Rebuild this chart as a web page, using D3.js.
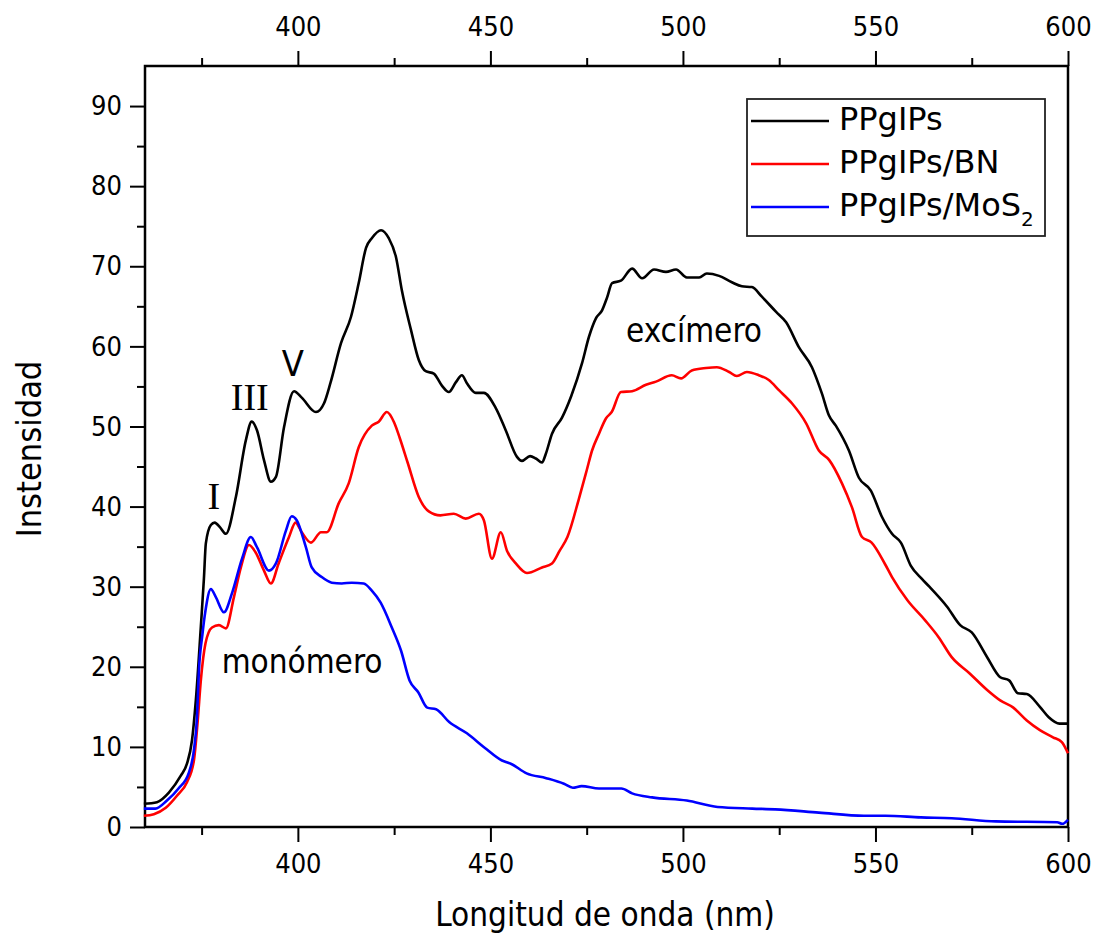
<!DOCTYPE html>
<html>
<head>
<meta charset="utf-8">
<script src="https://cdn.jsdelivr.net/npm/d3@7"></script>
<style>
  body { margin: 0; background: #fff; }
  svg text { fill: #000; }
  .cond { font-family: "DejaVu Sans Condensed", "DejaVu Sans", sans-serif; font-stretch: condensed; }
</style>
</head>
<body>
<svg id="chart" width="1099" height="934"></svg>
<script>
// emission spectra, [wavelength nm, intensity]
const ppgips = [[360,2.9],[363.4,3.1],[366.5,4.3],[369.6,6.4],[371.2,7.9],[372.5,10.8],[373.5,15.8],[374.8,25],[375.6,31],[376.1,35.4],[377.4,37.7],[378.4,38.0],[379.8,37.4],[381.3,36.6],[383.9,41.2],[386.5,48.3],[388,50.6],[389.4,49.5],[391.2,45.8],[393,43.1],[394.3,43.7],[396.4,49.9],[399,54.4],[401,53.6],[404.7,51.8],[406.8,52.9],[408.5,55.5],[411.2,60.4],[413.8,63.7],[415.8,67.9],[417.7,72.3],[419.2,73.5],[421.6,74.5],[423.6,73.5],[425.5,71.1],[427,67.0],[429.4,62.0],[431.4,58.3],[433.2,56.9],[435.3,56.6],[437.4,55.1],[439.2,54.3],[441,55.5],[442.6,56.4],[443.9,55.4],[446.2,54.2],[448.3,54.2],[451.4,52.3],[454,49.5],[456.9,46.2],[458.2,45.7],[460.3,46.3],[461.8,46],[463.4,45.5],[464.4,46.6],[466,49.1],[468.6,51.1],[471,53.8],[473.8,57.9],[475.6,61.2],[477.4,63.5],[479,64.5],[480.3,66.1],[481.6,67.9],[483.9,68.2],[486.8,69.7],[489.4,68.5],[492.5,69.6],[495.6,69.3],[498.2,69.6],[501,68.6],[504.2,68.6],[506.2,69.1],[509.4,68.8],[512.7,68],[515.3,67.5],[517.9,67.4],[520.5,66.2],[524.2,64.3],[526.8,63],[530.1,59.9],[533.5,57.4],[536.1,54.1],[537.9,51.4],[539.7,50.1],[543.1,47],[545.7,43.6],[548.8,42],[551.7,38.7],[554.3,36.6],[556.6,35.5],[559.2,32.6],[562,31],[564,30],[568.6,27.5],[572,25.2],[575,24.3],[579,21.2],[582.4,18.7],[584.7,18.3],[587,16.7],[589.3,16.6],[592.7,15.0],[595,13.7],[597.8,12.9],[600,12.9]];

const ppgipsBN = [[360,1.4],[362.6,1.6],[365.7,2.4],[368.6,3.9],[371.2,5.6],[373,8.3],[374,13.3],[374.8,18.3],[376,22.9],[377.7,24.9],[379.5,25.2],[381.3,24.8],[383.4,28.7],[385.2,32.4],[387.3,35.2],[389,34.3],[391.2,32],[393,30.4],[395,32.9],[397.7,36.2],[399.4,38.0],[401,36.8],[403.4,35.5],[406,36.8],[407.5,36.8],[410.6,40.4],[413.2,42.9],[415.8,47.4],[419.2,50.1],[421,50.6],[423.1,51.8],[425,50.5],[426.5,48.5],[428.5,45.5],[431.4,41.2],[434,39.4],[437,38.9],[440.5,39.1],[443.6,38.5],[447,39.1],[448.3,38.3],[450.4,33.5],[452.7,36.8],[454.3,34.5],[456.6,32.9],[459.5,31.7],[463.4,32.4],[466,32.9],[468,34.5],[470,36.2],[473,41],[475,44.5],[476.4,47],[478.2,49.1],[480,51],[481.5,51.8],[483.9,54.3],[486.8,54.4],[490.4,55.2],[493,55.6],[497.1,56.4],[499.5,56],[502.3,57],[506,57.3],[508.8,57.4],[512,56.8],[514,56.3],[516.6,56.8],[519.7,56.4],[522.3,55.8],[525,54.5],[528.3,52.9],[532,50.4],[535.3,47],[538,45.8],[541.3,42.9],[543.9,39.9],[546.5,36.2],[549,35.5],[552.5,32.8],[554.3,31.2],[558.3,28.3],[562.9,25.8],[566.4,23.7],[569.8,21.2],[574.4,19.2],[579,17.1],[582.4,15.8],[585.8,14.9],[589.3,13.3],[592.7,12.1],[596.1,11.2],[598.4,10.6],[600,9.2]];

const ppgipsMoS2 = [[360,2.3],[363,2.3],[366,3.3],[369,4.8],[371.7,6.8],[373,9.6],[373.8,13.7],[374.3,19.5],[375.2,24],[376,27],[377.4,29.7],[378.7,28.7],[380.8,26.8],[382.9,29.2],[385.5,33.5],[387.8,36.2],[389.4,34.9],[392.5,32],[394.3,32.9],[396.9,37],[398.4,38.8],[399.7,38.3],[402.1,34.9],[403.6,32.4],[406.2,31.2],[408.8,30.5],[411.4,30.4],[414,30.5],[417.1,30.4],[419.2,29.5],[421.5,28],[424.4,24.9],[426.8,22],[429,18.3],[431.3,16.8],[433.6,14.9],[435.9,14.7],[439.3,13.1],[443.9,11.7],[448.5,9.9],[453,8.3],[455.3,7.9],[459.4,6.7],[464.5,6.1],[469.1,5.4],[471.4,4.9],[473.7,5.1],[478.2,4.8],[484,4.8],[486.8,4.2],[492,3.7],[501,3.3],[509,2.5],[518,2.3],[524,2.2],[535.3,1.8],[547,1.4],[552.6,1.4],[561.8,1.2],[569.8,1.1],[581.2,0.7],[597.2,0.6],[598.5,0.4],[600,0.9]];

const seriesNames = ["PPgIPs", "PPgIPs/BN", "PPgIPs/MoS"];
const seriesColors = ["#000000", "#ff0000", "#0000ff"];
const xTicks = [400, 450, 500, 550, 600];
const xMinor = [375, 425, 475, 525, 575];
const yTicks = [0, 10, 20, 30, 40, 50, 60, 70, 80, 90];
const yMinor = [5, 15, 25, 35, 45, 55, 65, 75, 85, 95];

const svg = d3.select("#chart");
const margin = { top: 66, right: 31, bottom: 107, left: 145 };
const width = 1099 - margin.left - margin.right;
const height = 934 - margin.top - margin.bottom;

const x = d3.scaleLinear().domain([360.3, 600]).range([0, width]);
const y = d3.scaleLinear().domain([0, 95]).range([height, 0]);

const g = svg.append("g")
    .attr("transform", `translate(${margin.left},${margin.top})`);

function styleAxis(sel, fs) {
    sel.selectAll(".domain").remove();
    sel.selectAll("line").attr("stroke", "#000").attr("stroke-width", 2);
    sel.selectAll("text").attr("class", "cond").style("font-size", fs + "px").attr("fill", "#000");
}

// bottom axis
g.append("g").attr("transform", `translate(0,${height})`)
    .call(d3.axisBottom(x).tickValues(xTicks).tickSize(15).tickPadding(12).tickFormat(d3.format("d")))
    .call(s => styleAxis(s, 27));
g.append("g").attr("transform", `translate(0,${height})`)
    .call(d3.axisBottom(x).tickValues(xMinor).tickSize(8).tickFormat(""))
    .call(s => styleAxis(s, 27));

// top axis
g.append("g")
    .call(d3.axisTop(x).tickValues(xTicks).tickSize(15).tickPadding(15).tickFormat(d3.format("d")))
    .call(s => styleAxis(s, 27));
g.append("g")
    .call(d3.axisTop(x).tickValues(xMinor).tickSize(8).tickFormat(""))
    .call(s => styleAxis(s, 27));

// left axis
g.append("g")
    .call(d3.axisLeft(y).tickValues(yTicks).tickSize(15).tickPadding(8))
    .call(s => styleAxis(s, 27));
g.append("g")
    .call(d3.axisLeft(y).tickValues(yMinor.filter(v => v < 95)).tickSize(8).tickFormat(""))
    .call(s => styleAxis(s, 27));

// frame
g.append("rect")
    .attr("width", width).attr("height", height)
    .attr("fill", "none").attr("stroke", "#000").attr("stroke-width", 2.5);

const line = d3.line()
    .x(d => x(d[0]))
    .y(d => y(d[1]))
    .curve(d3.curveMonotoneX);

const allSeries = [ppgips, ppgipsBN, ppgipsMoS2];
g.selectAll(".curve")
    .data(allSeries)
    .enter().append("path")
    .attr("class", "curve")
    .attr("d", line)
    .attr("fill", "none")
    .attr("stroke", (d, i) => seriesColors[i])
    .attr("stroke-width", 2.6)
    .attr("stroke-linejoin", "round");

// annotations
const serif = "'Liberation Serif', 'DejaVu Serif', serif";
g.append("text").attr("x", x(378.2)).attr("y", y(39.7)).attr("text-anchor", "middle")
    .style("font-family", serif).style("font-size", "38px").text("I");
g.append("text").attr("x", x(387.5)).attr("y", y(52.1)).attr("text-anchor", "middle")
    .style("font-family", serif).style("font-size", "38px").text("III");
g.append("text").attr("class", "cond").attr("x", x(398.7)).attr("y", y(56.3)).attr("text-anchor", "middle")
    .style("font-size", "36px").text("V");
g.append("text").attr("class", "cond").attr("x", x(485.2)).attr("y", y(60.6))
    .style("font-size", "33px").text("excímero");
g.append("text").attr("class", "cond").attr("x", x(380.2)).attr("y", y(19.2))
    .style("font-size", "33px").text("monómero");

// axis titles
svg.append("text").attr("class", "cond")
    .attr("x", 605).attr("y", 926).attr("text-anchor", "middle")
    .style("font-size", "33px").text("Longitud de onda (nm)");
svg.append("text").attr("class", "cond")
    .attr("transform", "translate(41,449) rotate(-90)").attr("text-anchor", "middle")
    .style("font-size", "34px").text("Instensidad");

// legend
const legend = svg.append("g");
legend.append("rect")
    .attr("x", 747).attr("y", 99).attr("width", 298).attr("height", 137)
    .attr("fill", "#fff").attr("stroke", "#222").attr("stroke-width", 1.8);
const rows = legend.selectAll(".row").data(seriesNames).enter().append("g")
    .attr("transform", (d, i) => `translate(0,${121 + i * 43})`);
rows.append("line")
    .attr("x1", 751).attr("x2", 829)
    .attr("stroke", (d, i) => seriesColors[i]).attr("stroke-width", 2.6);
const lt = rows.append("text")
    .attr("x", 839).attr("y", 9)
    .style("font-family", "'DejaVu Sans', sans-serif").style("font-size", "32px")
    .text(d => d);
lt.filter((d, i) => i === 2).append("tspan")
    .attr("dy", 10).style("font-size", "20px").text("2");
</script>
</body>
</html>
